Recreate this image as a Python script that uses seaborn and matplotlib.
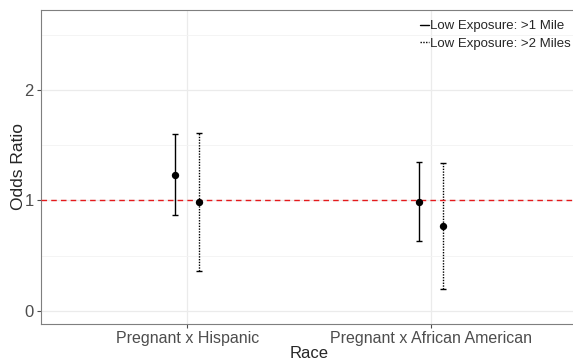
import numpy as np
import pandas as pd
import seaborn as sns
import matplotlib.pyplot as plt
from matplotlib.lines import Line2D

categories = ["Pregnant x Hispanic", "Pregnant x African American"]
series = ["Low Exposure: >1 Mile", "Low Exposure: >2 Miles"]
est_1mile = [1.23, 0.99]
lo_1mile = [0.87, 0.63]
hi_1mile = [1.60, 1.35]
est_2mile = [0.99, 0.77]
lo_2mile = [0.36, 0.20]
hi_2mile = [1.61, 1.34]

rows = []
for s, est, lo, hi in [(series[0], est_1mile, lo_1mile, hi_1mile),
                       (series[1], est_2mile, lo_2mile, hi_2mile)]:
    for c, e, l, h in zip(categories, est, lo, hi):
        rows.append(dict(cat=c, series=s, est=e, lo=l, hi=h))
df = pd.DataFrame(rows)
offsets = {series[0]: -0.05, series[1]: 0.05}
df["x"] = df["cat"].map({c: i + 1 for i, c in enumerate(categories)}) + df["series"].map(offsets)

sns.set_theme(style="white")
plt.rcParams['font.family'] = ['Liberation Sans', 'DejaVu Sans']

W, H = 573, 363
fig = plt.figure(figsize=(W / 100, H / 100), dpi=100)
ax = fig.add_axes([40.7 / W, 39 / H, 537 / W, 314 / H])

styles = {series[0]: "-", series[1]: (0, (1, 1))}
for s in series:
    d = df[df.series == s]
    eb = ax.errorbar(d["x"], d["est"], yerr=[d["est"] - d["lo"], d["hi"] - d["est"]],
                     fmt="none", ecolor="black", elinewidth=1.0, capsize=2, capthick=1.0)
    eb[2][0].set_linestyle(styles[s])
sns.scatterplot(data=df, x="x", y="est", color="black", s=28, edgecolor="black",
                linewidth=0, ax=ax, zorder=5, legend=False)

ax.axhline(1, color="#e41a1c", linestyle=(0, (4, 3)), linewidth=1.0, zorder=3)

ax.set_xlim(0.4, 2.6)
ax.set_ylim(-0.118, 2.724)
ax.set_xticks([1, 2])
ax.set_xticklabels(categories, fontsize=11.5, color="#4d4d4d")
ax.set_yticks([0, 1, 2])
ax.set_yticklabels(["0", "1", "2"], fontsize=12, color="#4d4d4d")
ax.set_yticks([0.5, 1.5, 2.5], minor=True)
ax.grid(True, which="major", color="#ebebeb", linewidth=0.9)
ax.grid(True, which="minor", axis="y", color="#f3f3f3", linewidth=0.6)
ax.set_axisbelow(True)
ax.tick_params(axis="both", which="major", length=3, width=0.8, color="#4d4d4d", pad=2)
ax.tick_params(axis="both", which="minor", length=0)
ax.tick_params(bottom=True, left=True)
for sp in ax.spines.values():
    sp.set_color("#7f7f7f")
    sp.set_linewidth(0.8)
ax.set_xlabel("Race", fontsize=12, labelpad=0)
ax.set_ylabel("Odds Ratio", fontsize=12.5)
ax.yaxis.set_label_coords(-0.028, 0.5)

handles = [Line2D([], [], color="black", linestyle=styles[s], linewidth=1.0) for s in series]
fig.legend(handles, series, loc="upper right", bbox_to_anchor=(571 / W, 1 - 20 / H),
           frameon=False, fontsize=9.5, handlelength=0.7, handletextpad=0.1,
           borderaxespad=0, labelspacing=0.4, borderpad=0)

fig.savefig("out.png", dpi=100)
